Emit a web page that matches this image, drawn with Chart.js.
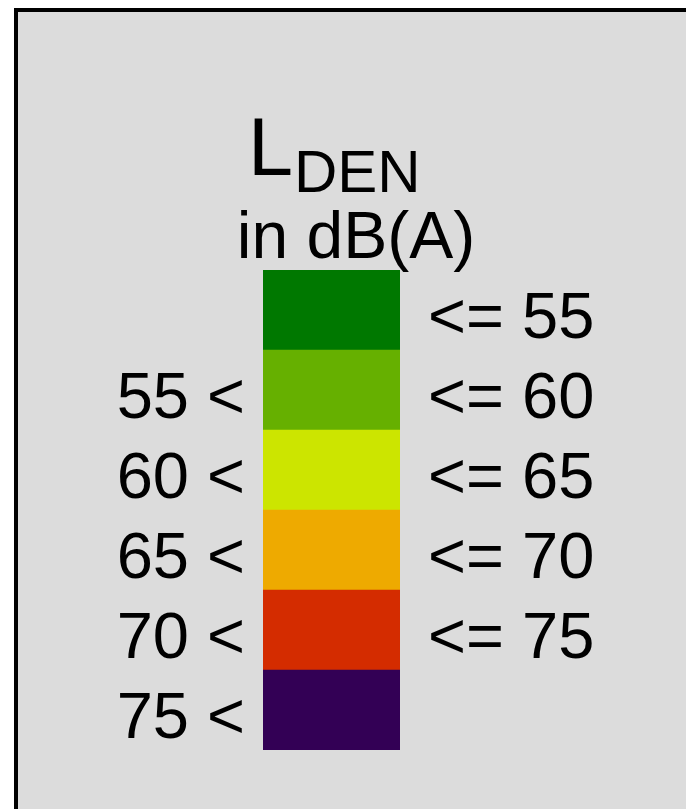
<!DOCTYPE html>
<html>
<head>
<meta charset="utf-8">
<script src="https://cdn.jsdelivr.net/npm/chart.js@4/dist/chart.umd.min.js"></script>
<style>
  html, body { margin: 0; padding: 0; background: #ffffff; overflow: hidden; }
  #frame {
    position: absolute; left: 14px; top: 8px; width: 720px; height: 860px;
    background: #dcdcdc; border: 4px solid #000000; box-sizing: border-box;
  }
  #wrap { position: absolute; left: 0; top: 0; width: 686px; height: 809px; }
</style>
</head>
<body>
<div id="frame"></div>
<div id="wrap"><canvas id="legend-chart"></canvas></div>
<script>
const bandNames = ["<= 55", "55-60", "60-65", "65-70", "70-75", "> 75"];
const lowerLabels = ["", "55 <", "60 <", "65 <", "70 <", "75 <"];
const upperLabels = ["<= 55", "<= 60", "<= 65", "<= 70", "<= 75", ""];
const bandColors = ["#007800", "#66b000", "#cce500", "#eeaa00", "#d42c00", "#330055"];
const bandSpans = [[0, 1], [0, 1], [0, 1], [0, 1], [0, 1], [0, 1]];

const fontFamily = "'Liberation Sans', Arial, sans-serif";

const labelPlugin = {
  id: "bandLabels",
  afterDatasetsDraw(chart) {
    const ctx = chart.ctx;
    const area = chart.chartArea;
    const bars = chart.getDatasetMeta(0).data;
    ctx.save();
    ctx.fillStyle = "#000000";
    ctx.textBaseline = "alphabetic";
    ctx.font = `65px ${fontFamily}`;
    bars.forEach((bar, i) => {
      const baseline = bar.y + 28;
      ctx.textAlign = "right";
      ctx.fillText(lowerLabels[i], area.left - 18, baseline);
      ctx.textAlign = "left";
      ctx.fillText(upperLabels[i], area.right + 28, baseline);
    });

    // title: L with DEN subscript, then unit line
    ctx.textAlign = "left";
    ctx.font = `81px ${fontFamily}`;
    ctx.fillText("L", 248, 175);
    ctx.font = `60px ${fontFamily}`;
    ctx.fillText("DEN", 294, 192);
    ctx.textAlign = "center";
    ctx.font = `66px ${fontFamily}`;
    ctx.fillText("in dB(A)", 356, 258);
    ctx.restore();
  },
};

new Chart(document.getElementById("legend-chart"), {
  type: "bar",
  data: {
    labels: bandNames,
    datasets: [
      {
        data: bandSpans,
        backgroundColor: bandColors,
        borderWidth: 0,
        barPercentage: 1,
        categoryPercentage: 1,
      },
    ],
  },
  options: {
    indexAxis: "y",
    responsive: true,
    maintainAspectRatio: false,
    animation: false,
    layout: {
      padding: { left: 263, right: 286, top: 270, bottom: 59 },
    },
    plugins: {
      legend: { display: false },
      tooltip: { enabled: false },
    },
    scales: {
      x: { display: false, min: 0, max: 1 },
      y: { display: false },
    },
  },
  plugins: [labelPlugin],
});
</script>
</body>
</html>
